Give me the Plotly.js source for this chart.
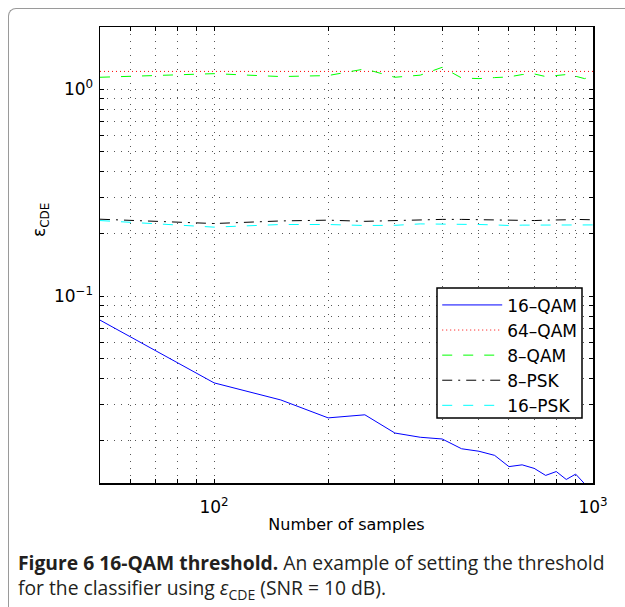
<!DOCTYPE html>
<html>
<head>
<meta charset="utf-8">
<script src="https://cdn.plot.ly/plotly-3.0.1.min.js"></script>
<style>
  html, body { margin: 0; padding: 0; background: #fff; }
  #wrap { position: relative; width: 625px; height: 607px; overflow: hidden; }
  #frame { position: absolute; left: 8px; top: 8px; width: 640px; height: 640px;
           border-left: 1.5px solid #9a9a9a; border-top: 1.5px solid #9a9a9a;
           border-top-left-radius: 8px; }
  #chart { position: absolute; left: 0; top: 0; width: 625px; height: 607px; }
  .cap { position: absolute; left: 18px; font-family: 'Open Sans', sans-serif;
         font-size: 19.3px; line-height: 26px; color: #231f20; white-space: nowrap; }
</style>
</head>
<body>
<div id="wrap">
  <div id="frame"></div>
  <div id="chart"></div>
  <div class="cap" style="top:550px;"><b>Figure 6 16-QAM threshold.</b> An example of setting the threshold</div>
  <div class="cap" style="top:575px;">for the classifier using <i>ε</i><sub style="font-size:14px;line-height:0;">CDE</sub> (SNR = 10 dB).</div>
</div>
<script>
// Number of samples
const samples = [50, 100, 150, 200, 250, 300, 350, 400, 450, 500, 550, 600, 650, 700, 750, 800, 850, 900, 950, 1000];

// epsilon_CDE per modulation
const qam16 = [0.0766, 0.0381, 0.0315, 0.0258, 0.0267, 0.0218, 0.0208, 0.0204, 0.0183, 0.0178,
               0.0170, 0.0150, 0.0153, 0.0147, 0.0136, 0.0142, 0.0130, 0.0138, 0.0124, 0.0122];
const qam64 = [1.22, 1.22, 1.22, 1.22, 1.22, 1.22, 1.22, 1.22, 1.22, 1.22,
               1.22, 1.22, 1.22, 1.22, 1.22, 1.22, 1.22, 1.22, 1.22, 1.22];
const qam8  = [1.143, 1.19, 1.152, 1.165, 1.254, 1.143, 1.17, 1.277, 1.134, 1.126,
               1.139, 1.147, 1.178, 1.186, 1.152, 1.169, 1.178, 1.156, 1.126, 1.156];
const psk8  = [0.2355, 0.2244, 0.231, 0.233, 0.230, 0.232, 0.235, 0.235, 0.235, 0.234,
               0.233, 0.232, 0.231, 0.232, 0.233, 0.233, 0.234, 0.235, 0.234, 0.234];
const psk16 = [0.232, 0.2156, 0.222, 0.222, 0.2196, 0.220, 0.2235, 0.2235, 0.2235, 0.222,
               0.221, 0.2196, 0.2205, 0.2205, 0.221, 0.221, 0.222, 0.222, 0.221, 0.221];

const seriesNames = ['16–QAM', '64–QAM', '8–QAM', '8–PSK', '16–PSK'];

// Tick positions and labels
const xTickVals = [50, 60, 70, 80, 90, 100, 200, 300, 400, 500, 600, 700, 800, 900, 1000];
const xTickText = ['', '', '', '', '', '10<sup>2</sup>', '', '', '', '', '', '', '', '', '10<sup>3</sup>'];
const yTickVals = [0.02, 0.03, 0.04, 0.05, 0.06, 0.07, 0.08, 0.09, 0.1, 0.2, 0.3, 0.4, 0.5, 0.6, 0.7, 0.8, 0.9, 1, 2];
const yTickText = ['', '', '', '', '', '', '', '', '10<sup>−1</sup>', '', '', '', '', '', '', '', '', '10<sup>0</sup>', ''];

const styles = [
  {color: '#0000ff', dash: 'solid'},
  {color: '#ff0000', dash: '1px,3px'},
  {color: '#00ff00', dash: '10px,11px'},
  {color: '#000000', dash: '10px,6px,2px,6px'},
  {color: '#00ffff', dash: '10px,11px'}
];
const ys = [qam16, qam64, qam8, psk8, psk16];

const traces = ys.map((y, i) => ({
  x: samples, y: y, type: 'scatter', mode: 'lines', name: seriesNames[i],
  line: {color: styles[i].color, dash: styles[i].dash, width: 1}
}));

const axisFont = {family: 'DejaVu Sans, sans-serif', size: 16, color: '#000'};
const tickFont = {family: 'DejaVu Sans, sans-serif', size: 17, color: '#000'};

const layout = {
  width: 625, height: 607,
  margin: {l: 100, r: 32, t: 27, b: 124},
  paper_bgcolor: 'rgba(0,0,0,0)', plot_bgcolor: '#fff',
  showlegend: true,
  font: axisFont,
  xaxis: {
    type: 'log', range: [Math.log10(50), 3],
    tickvals: xTickVals, ticktext: xTickText,
    ticks: 'inside', ticklen: 4, tickcolor: '#000',
    showline: true, linecolor: '#000', linewidth: 1.5, mirror: 'ticks',
    showgrid: true, gridcolor: '#555', gridwidth: 1, griddash: '1px,6px',
    zeroline: false, tickfont: tickFont, ticklabelstandoff: 8,
    title: {text: 'Number of samples', font: axisFont, standoff: 3}
  },
  yaxis: {
    type: 'log', range: [Math.log10(0.0125), Math.log10(2)],
    tickvals: yTickVals, ticktext: yTickText,
    ticks: 'inside', ticklen: 4, tickcolor: '#000',
    showline: true, linecolor: '#000', linewidth: 1.5, mirror: 'ticks',
    showgrid: true, gridcolor: '#555', gridwidth: 1, griddash: '1px,6px',
    zeroline: false, tickfont: tickFont, ticklabelstandoff: 2
  },
  legend: {
    x: 0.684, y: 0.429, xanchor: 'left', yanchor: 'top',
    bgcolor: 'rgba(255,255,255,0)', bordercolor: 'rgba(255,255,255,0)', borderwidth: 0,
    font: {family: 'DejaVu Sans, sans-serif', size: 17, color: '#000'},
    itemwidth: 60
  },
  shapes: [{
    type: 'rect', xref: 'paper', yref: 'paper', layer: 'above',
    x0: (437 - 100) / 493, x1: (582 - 100) / 493,
    y0: (483 - 418) / 456, y1: (483 - 288) / 456,
    fillcolor: '#fff', line: {color: '#000', width: 1.5}
  }],
  annotations: [{
    text: 'ε<sub>CDE</sub>', textangle: -90, showarrow: false,
    xref: 'paper', yref: 'paper', x: (40 - 100) / 493, y: (483 - 220) / 456,
    xanchor: 'center', yanchor: 'middle', font: {family: 'DejaVu Sans, sans-serif', size: 17, color: '#000'}
  }]
};

Plotly.newPlot('chart', traces, layout, {displayModeBar: false, staticPlot: true});
</script>
</body>
</html>
